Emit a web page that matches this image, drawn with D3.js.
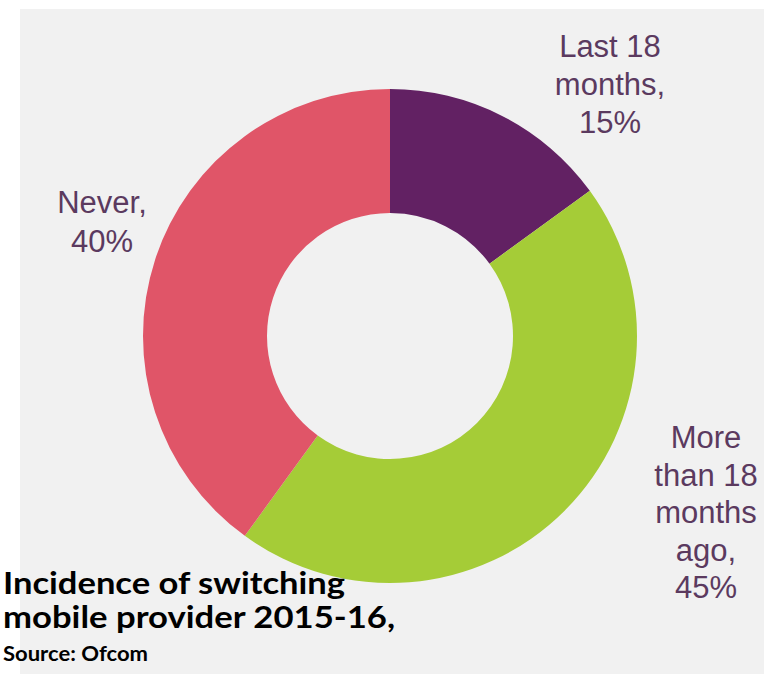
<!DOCTYPE html>
<html>
<head>
<meta charset="utf-8">
<script src="https://cdn.jsdelivr.net/npm/d3@7"></script>
<style>
  html, body { margin: 0; padding: 0; background: #ffffff; }
  svg { display: block; }
</style>
</head>
<body>
<svg id="chart" width="764" height="674"></svg>
<script>
// Switching mobile provider, share of respondents (%)
const categories = ["Last 18 months", "More than 18 months ago", "Never"];
const shares = [15, 45, 40];
const labelLines = [
  ["Last 18", "months,", "15%"],
  ["More", "than 18", "months", "ago,", "45%"],
  ["Never,", "40%"]
];
const sliceColors = ["#622163", "#a5cc37", "#e05568"];
const titleLines = ["Incidence of switching", "mobile provider 2015-16,"];
const sourceLine = "Source: Ofcom";

const W = 764, H = 674;
const svg = d3.select("#chart");

// grey panel behind the chart
svg.append("rect")
  .attr("x", 20).attr("y", 9)
  .attr("width", W - 20).attr("height", H - 9)
  .attr("fill", "#f1f1f1");

const cx = 390, cy = 336;
const outerR = 247, innerR = 123;

const pie = d3.pie().sort(null).value(d => d.value);
const arc = d3.arc().innerRadius(innerR).outerRadius(outerR);

const data = categories.map((c, i) => ({ name: c, value: shares[i], color: sliceColors[i], lines: labelLines[i] }));

const g = svg.append("g").attr("transform", `translate(${cx},${cy})`);
g.selectAll("path")
  .data(pie(data))
  .join("path")
  .attr("d", arc)
  .attr("fill", d => d.data.color);

// outside labels: middle baseline of each text block, relative to the donut centre
const labelAnchor = [[220, -241], [316, 187], [-288, -103.5]];
const lineH = [38, 37.5, 39];
const labelG = svg.append("g")
  .attr("font-family", "Liberation Sans, Arial, sans-serif")
  .attr("font-size", 31)
  .attr("fill", "#5b3a5f")
  .attr("text-anchor", "middle");
data.forEach((d, i) => {
  const x = cx + labelAnchor[i][0];
  const y = cy + labelAnchor[i][1];
  const t = labelG.append("text");
  d.lines.forEach((ln, k) => {
    t.append("tspan")
      .attr("x", x)
      .attr("y", y + (k - (d.lines.length - 1) / 2) * lineH[i])
      .text(ln);
  });
});

// title block
const title = svg.append("g")
  .attr("font-family", "Lato, 'Open Sans', sans-serif")
  .attr("font-weight", "bold")
  .attr("fill", "#000");
const titleWidths = [342, 392];
titleLines.forEach((ln, k) => {
  title.append("text")
    .attr("x", 3)
    .attr("y", 594 + k * 34)
    .attr("font-size", 30)
    .attr("textLength", titleWidths[k])
    .attr("lengthAdjust", "spacingAndGlyphs")
    .text(ln);
});
title.append("text")
  .attr("x", 3)
  .attr("y", 661)
  .attr("font-size", 21)
  .attr("textLength", 145)
  .attr("lengthAdjust", "spacingAndGlyphs")
  .text(sourceLine);
</script>
</body>
</html>
